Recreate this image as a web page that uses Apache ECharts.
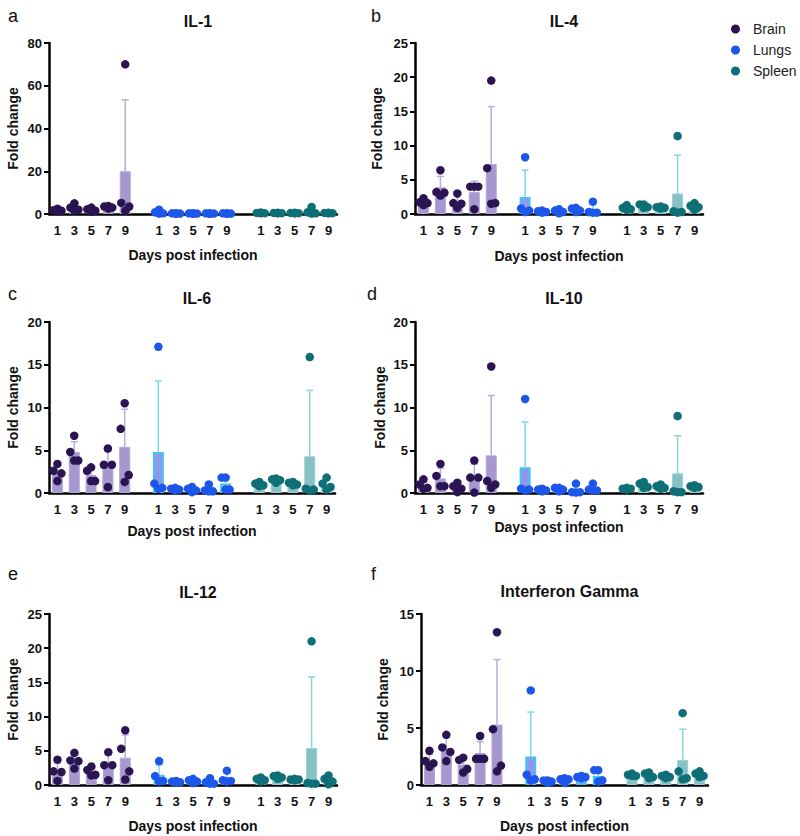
<!DOCTYPE html>
<html><head><meta charset="utf-8">
<script src="https://cdn.jsdelivr.net/npm/echarts@6/dist/echarts.min.js"></script>
<style>html,body{margin:0;padding:0;background:#fff}#chart{width:800px;height:836px}</style>
</head><body><div id="chart"></div>
<script>
const DAYS = ['1', '3', '5', '7', '9'];
const TISSUES = ['Brain', 'Lungs', 'Spleen'];
const PANEL_LETTERS = ['a', 'b', 'c', 'd', 'e', 'f'];
const PANEL_TITLES = ['IL-1', 'IL-4', 'IL-6', 'IL-10', 'IL-12', 'Interferon Gamma'];
const Y_MAX = [80, 25, 20, 20, 25, 15];
const Y_STEP = [20, 5, 5, 5, 5, 5];

// order: Brain d1..d9, Lungs d1..d9, Spleen d1..d9
const IL1_MEAN = [1.8, 2.9, 1.9, 3.2, 20.0, 0.8, 0.3, 0.3, 0.3, 0.3, 0.5, 0.5, 0.5, 1.15, 0.5];
const IL1_ERR  = [2.5, 4.5, 2.8, 3.8, 53.4, 1.7, 0.4, 0.4, 0.4, 0.4, 0.7, 0.7, 0.7, 2.8, 0.7];
const IL1_PTS  = [[2.5,1.8,1.5,1.2],[5.0,3.0,2.0,1.5],[3.0,2.2,1.5,1.0],[3.8,3.5,3.0,2.5],[70,5.2,3.5,1.5],
                  [2.0,0.8,0.3,0.2],[0.4,0.3,0.2,0.1],[0.4,0.3,0.2,0.1],[0.4,0.3,0.2,0.1],[0.4,0.3,0.2,0.1],
                  [0.7,0.5,0.4,0.3],[0.6,0.5,0.4,0.3],[0.6,0.5,0.4,0.3],[3.3,0.8,0.3,0.2],[0.6,0.5,0.4,0.3]];

const IL4_MEAN = [1.7, 3.9, 1.8, 3.2, 7.3, 2.5, 0.35, 0.4, 0.6, 0.6, 0.9, 1.2, 0.95, 3.0, 1.0];
const IL4_ERR  = [2.2, 5.5, 2.8, 4.8, 15.7, 6.4, 0.5, 0.7, 0.9, 1.4, 1.2, 1.5, 1.1, 8.6, 1.4];
const IL4_PTS  = [[2.3,1.7,1.6,1.3],[6.4,3.2,3.1,2.7],[3.0,1.6,1.5,0.9],[4.0,4.0,4.0,0.7],[19.5,6.7,1.6,1.5],
                  [8.3,0.8,0.5,0.3],[0.5,0.4,0.3,0.2],[0.7,0.5,0.3,0.1],[0.9,0.8,0.5,0.3],[1.8,0.3,0.2,0.2],
                  [1.3,0.9,0.7,0.6],[1.4,1.4,1.0,0.9],[1.1,1.0,0.9,0.8],[11.4,0.4,0.3,0.2],[1.6,1.2,1.0,0.6]];

const IL6_MEAN = [2.4, 4.8, 2.1, 3.2, 5.4, 4.8, 0.45, 0.4, 0.4, 1.1, 1.0, 1.5, 1.1, 4.3, 1.0];
const IL6_ERR  = [3.1, 6.0, 2.9, 4.9, 9.8, 13.1, 0.6, 0.7, 0.8, 1.6, 1.3, 1.8, 1.3, 12.0, 1.6];
const IL6_PTS  = [[3.4,2.6,2.3,1.4],[6.7,4.8,3.8,3.8],[3.0,2.6,1.4,1.4],[5.2,3.3,3.3,0.7],[10.5,7.5,2.1,1.3],
                  [17.1,1.1,0.6,0.5],[0.6,0.5,0.4,0.3],[0.7,0.5,0.3,0.1],[1.0,0.3,0.2,0.2],[1.8,1.8,0.4,0.4],
                  [1.3,1.1,0.9,0.8],[1.7,1.6,1.5,1.2],[1.3,1.2,1.0,0.9],[15.9,0.5,0.4,0.3],[1.8,1.1,0.7,0.4]];

const IL10_MEAN = [0.8, 1.7, 0.65, 1.9, 4.4, 3.0, 0.35, 0.45, 0.35, 0.5, 0.5, 0.9, 0.7, 2.3, 0.75];
const IL10_ERR  = [1.3, 2.9, 1.1, 3.4, 11.4, 8.3, 0.5, 0.6, 0.85, 0.9, 0.6, 1.2, 0.9, 6.7, 0.85];
const IL10_PTS  = [[1.6,1.0,0.6,0.5],[3.4,2.0,0.8,0.8],[1.2,0.8,0.5,0.1],[3.8,1.8,1.8,0.05],[14.8,1.4,1.0,0.6],
                   [11.0,0.5,0.4,0.3],[0.5,0.4,0.3,0.2],[0.6,0.6,0.4,0.2],[1.1,0.1,0.1,0.05],[1.1,0.4,0.3,0.3],
                   [0.6,0.5,0.5,0.4],[1.3,1.1,0.7,0.6],[1.0,0.8,0.6,0.5],[9.0,0.2,0.1,0.1],[0.9,0.8,0.7,0.6]];

const IL12_MEAN = [2.0, 3.6, 1.9, 2.8, 4.0, 1.5, 0.5, 0.6, 0.45, 0.9, 0.8, 1.2, 0.8, 5.4, 0.7];
const IL12_ERR  = [3.2, 4.5, 2.5, 4.4, 7.3, 2.9, 0.6, 0.85, 0.85, 1.7, 1.1, 1.4, 0.9, 15.8, 1.3];
const IL12_PTS  = [[3.7,2.0,1.9,0.6],[4.7,3.6,3.5,2.4],[2.7,2.2,1.5,1.4],[4.8,2.9,2.9,0.7],[8.0,5.3,2.0,0.8],
                   [3.5,1.3,0.6,0.5],[0.6,0.5,0.4,0.4],[0.9,0.7,0.5,0.3],[1.0,0.4,0.2,0.2],[2.1,0.7,0.6,0.5],
                   [1.1,0.9,0.7,0.5],[1.4,1.3,1.1,0.9],[0.9,0.8,0.8,0.7],[21.0,0.3,0.2,0.2],[1.4,0.9,0.5,0.1]];

const IFNG_MEAN = [2.1, 3.2, 1.8, 2.8, 5.3, 2.5, 0.35, 0.45, 0.7, 0.8, 0.85, 0.85, 0.8, 2.2, 0.9];
const IFNG_ERR  = [2.7, 4.2, 2.4, 3.8, 11.0, 6.4, 0.45, 0.6, 0.8, 1.3, 1.0, 1.0, 0.9, 4.9, 1.15];
const IFNG_PTS  = [[3.0,2.1,1.9,1.6],[4.4,3.3,2.9,2.1],[2.4,2.2,1.4,1.1],[4.3,2.3,2.3,2.3],[13.4,4.9,1.7,1.2],
                   [8.3,0.9,0.5,0.4],[0.4,0.4,0.3,0.2],[0.6,0.5,0.5,0.2],[0.8,0.7,0.7,0.6],[1.3,1.3,0.4,0.3],
                   [1.0,0.9,0.8,0.8],[1.1,1.0,0.7,0.6],[0.9,0.8,0.7,0.6],[6.3,1.2,0.6,0.5],[1.2,1.0,0.8,0.7]];

const MEANS = [IL1_MEAN, IL4_MEAN, IL6_MEAN, IL10_MEAN, IL12_MEAN, IFNG_MEAN];
const ERRS  = [IL1_ERR, IL4_ERR, IL6_ERR, IL10_ERR, IL12_ERR, IFNG_ERR];
const PTS   = [IL1_PTS, IL4_PTS, IL6_PTS, IL10_PTS, IL12_PTS, IFNG_PTS];

// ---- styling / layout ----
const FONT = 'Liberation Sans, Arial, sans-serif';
const DOT_COLORS = ['#2a1452', '#1d57ea', '#0f6f77'];
const BAR_FILL = ['#a797cf', '#8f98ec', '#88c1c5'];
const BAR_BORDER = ['#b2a6d9', '#45c4f0', '#93d3d8'];
const BAR_BORDER_W = [1, 2, 1];
const ERR_COLORS = ['#b8aedb', '#80d6ee', '#90d3d8'];
const JITTER = [0, -4, 4, 0];
const GRIDS = [
  {left: 49, top: 43, width: 288, height: 171, xGap: 34, yGap: 29, lx: 3, ly: 2, ty: 8},
  {left: 415, top: 43, width: 288, height: 171, xGap: 35, yGap: 31, lx: 366, ly: 2, ty: 8},
  {left: 49, top: 322, width: 286, height: 171, xGap: 31, yGap: 29, lx: 3, ly: 280, ty: 285},
  {left: 415, top: 322, width: 288, height: 171, xGap: 27, yGap: 28, lx: 362, ly: 280, ty: 285},
  {left: 49, top: 614, width: 288, height: 171, xGap: 34, yGap: 29, lx: 3, ly: 560, ty: 579},
  {left: 421, top: 614, width: 287, height: 171, xGap: 34, yGap: 31, lx: 366, ly: 560, ty: 578}
];

// category keys (with a blank slot between tissues)
const CATS = [];
const CAT_LABEL = {};
TISSUES.forEach((t, ti) => {
  if (ti > 0) { CATS.push('gap' + ti); CAT_LABEL['gap' + ti] = ''; }
  DAYS.forEach(d => { const k = t + '-' + d; CATS.push(k); CAT_LABEL[k] = d; });
});
const catIndex = (ti, di) => ti * (DAYS.length + 1) + di;

const option = {
  animation: false,
  backgroundColor: '#fff',
  title: [],
  grid: [],
  xAxis: [],
  yAxis: [],
  series: [],
  legend: {
    orient: 'vertical', left: 726, top: 17, itemGap: 7,
    itemWidth: 9, itemHeight: 9, icon: 'circle',
    textStyle: {fontFamily: FONT, fontSize: 14, color: '#222', padding: [0, 0, 0, 8]},
    data: TISSUES
  }
};

GRIDS.forEach((g, p) => {
  option.grid.push({left: g.left, top: g.top, width: g.width, height: g.height});
  option.title.push({text: PANEL_LETTERS[p], left: g.lx, top: g.ly,
    textStyle: {fontFamily: FONT, fontSize: 18, fontWeight: 'normal', color: '#111'}});
  option.title.push({text: PANEL_TITLES[p], left: g.left + g.width / 2, top: g.ty, textAlign: 'center',
    textStyle: {fontFamily: FONT, fontSize: 16, fontWeight: 'bold', color: '#111'}});
  option.xAxis.push({
    type: 'category', gridIndex: p, data: CATS, boundaryGap: true,
    name: 'Days post infection', nameLocation: 'middle', nameGap: g.xGap,
    nameTextStyle: {fontFamily: FONT, fontSize: 14, fontWeight: 'bold', color: '#111'},
    axisLine: {lineStyle: {color: '#000', width: 2.5}},
    axisTick: {alignWithLabel: true, length: 6, lineStyle: {color: '#000', width: 2},
      interval: (i, v) => CAT_LABEL[v] !== ''},
    axisLabel: {interval: 0, margin: 10, fontFamily: FONT, fontSize: 13, fontWeight: 'bold', color: '#111',
      formatter: v => CAT_LABEL[v]},
    splitLine: {show: false}
  });
  option.yAxis.push({
    type: 'value', gridIndex: p, min: 0, max: Y_MAX[p], interval: Y_STEP[p],
    name: 'Fold change', nameLocation: 'middle', nameGap: g.yGap,
    nameTextStyle: {fontFamily: FONT, fontSize: 14, fontWeight: 'bold', color: '#111'},
    axisLine: {show: true, lineStyle: {color: '#000', width: 2.5}},
    axisTick: {show: true, length: 5, lineStyle: {color: '#000', width: 2}},
    axisLabel: {margin: 7, fontFamily: FONT, fontSize: 13, fontWeight: 'bold', color: '#111'},
    splitLine: {show: false}
  });

  TISSUES.forEach((t, ti) => {
    const barData = CATS.map(() => '-');
    const errData = [];
    const dotData = [];
    DAYS.forEach((d, di) => {
      const k = ti * DAYS.length + di;
      const ci = catIndex(ti, di);
      barData[ci] = MEANS[p][k];
      errData.push([ci, MEANS[p][k], ERRS[p][k]]);
      PTS[p][k].forEach((v, r) => dotData.push({value: [ci, v], symbolOffset: [JITTER[r], 0]}));
    });
    option.series.push({
      type: 'bar', name: t + ' mean', xAxisIndex: p, yAxisIndex: p, data: barData,
      barWidth: 11, barGap: '-100%', z: 2, silent: true,
      itemStyle: {color: BAR_FILL[ti], borderColor: BAR_BORDER[ti], borderWidth: BAR_BORDER_W[ti]}
    });
    const ec = ERR_COLORS[ti];
    option.series.push({
      type: 'custom', name: t + ' SD', xAxisIndex: p, yAxisIndex: p, data: errData, z: 3, silent: true,
      encode: {x: 0, y: [1, 2]},
      renderItem: (params, api) => {
        const x = api.value(0);
        const a = api.coord([x, api.value(1)]);
        const b = api.coord([x, api.value(2)]);
        return {type: 'group', children: [
          {type: 'line', shape: {x1: a[0], y1: a[1], x2: b[0], y2: b[1]}, style: {stroke: ec, lineWidth: 1.5}},
          {type: 'line', shape: {x1: b[0] - 3.5, y1: b[1], x2: b[0] + 3.5, y2: b[1]}, style: {stroke: ec, lineWidth: 1.5}}
        ]};
      }
    });
    option.series.push({
      type: 'scatter', name: t, xAxisIndex: p, yAxisIndex: p, data: dotData, z: 4,
      symbol: 'circle', symbolSize: 8.5, clip: false,
      itemStyle: {color: DOT_COLORS[ti], opacity: 1}
    });
  });
});

const chart = echarts.init(document.getElementById('chart'), null, {renderer: 'svg', width: 800, height: 836});
chart.setOption(option);
</script>
</body></html>
